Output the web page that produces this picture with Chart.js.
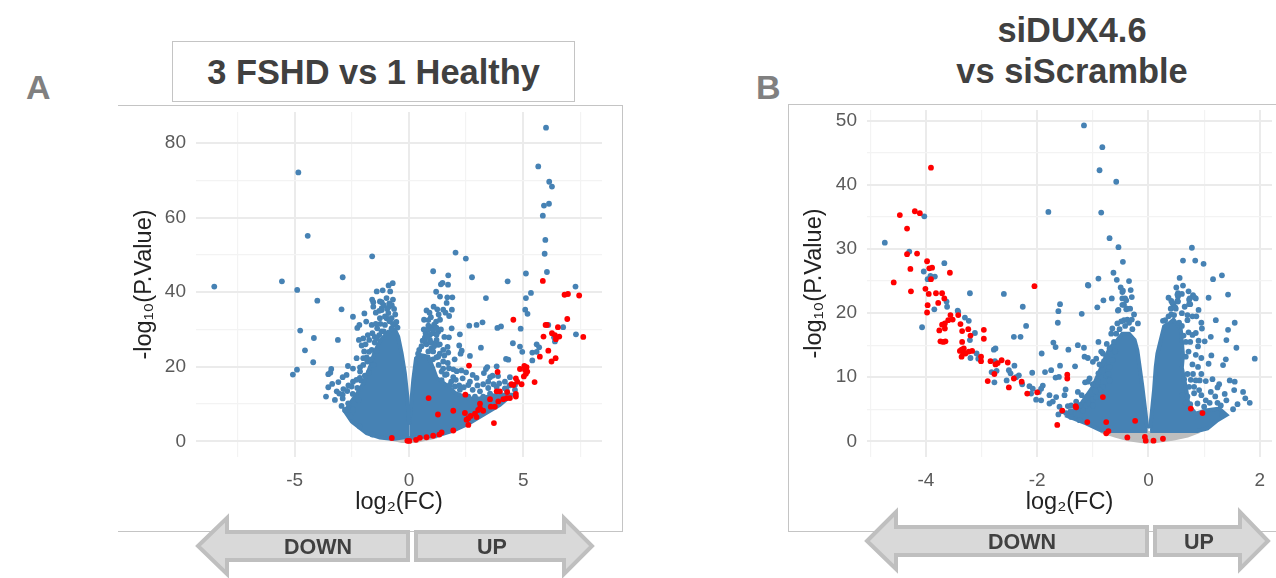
<!DOCTYPE html>
<html>
<head>
<meta charset="utf-8">
<title>Volcano plots</title>
<script src="https://cdn.jsdelivr.net/npm/chart.js@4/dist/chart.umd.min.js"></script>
<style>
    html, body { margin: 0; padding: 0; background: #fff; }
    body { position: relative; width: 1276px; height: 578px; overflow: hidden; font-family: "Liberation Sans", Arial, sans-serif; }
    canvas { position: absolute; }
    .frame { position: absolute; box-sizing: border-box; border: 1px solid #c4c4c4; }
    .letter { position: absolute; font-size: 34px; font-weight: bold; color: #808080; line-height: 34px; }
    .title { position: absolute; font-weight: bold; color: #404040; text-align: center; font-size: 34.4px; }
    svg { position: absolute; left: 0; top: 0; }
    svg text { font-family: "Liberation Sans", Arial, sans-serif; font-size: 21.5px; font-weight: bold; fill: #404040; text-anchor: middle; }
    svg polygon { fill: #d9d9d9; stroke: #bfbfbf; stroke-width: 4; }
</style>
</head>
<body>
<div class="letter" style="left:26px;top:70px;">A</div>
<div class="letter" style="left:756px;top:70px;">B</div>
<div class="frame" style="left:172px;top:41px;width:403px;height:61px;"></div>
<div class="title" style="left:172px;top:53px;width:403px;">3 FSHD vs 1 Healthy</div>
<div class="title" style="left:872px;top:10px;width:400px;line-height:41px;">siDUX4.6<br>vs siScramble</div>
<div class="frame" style="left:118px;top:105px;width:505px;height:427px;border-left:none;"></div>
<div class="frame" style="left:788px;top:104px;width:490px;height:428px;border-right:none;"></div>
<canvas id="chart-a" width="504" height="426" style="left:118px;top:105px;"></canvas>
<canvas id="chart-b" width="488" height="427" style="left:788px;top:104px;"></canvas>
<svg width="1276" height="578">
    <polygon points="198,546 227,518 227,532 408,532 408,560 227,560 227,574"></polygon>
    <polygon points="416,532 564,532 564,518 592,546 564,574 564,560 416,560"></polygon>
    <text x="318" y="554">DOWN</text>
    <text x="492" y="554">UP</text>
    <polygon points="867,541 896,512 896,527 1147,527 1147,555 896,555 896,569"></polygon>
    <polygon points="1155,527 1240,527 1240,512 1268,541 1240,569 1240,555 1155,555"></polygon>
    <text x="1022" y="549">DOWN</text>
    <text x="1199" y="549">UP</text>
</svg>
<script>
// values, [log2FC, -log10P]
// the solid blue wedges are thousands of overlapping dots, so they are traced as outlines
const aGrey = [[-1.2,1.3],[-0.7,0.6],[-0.3,0.1],[0.3,0.1],[0.7,0.6],[1.2,1.3]];
const aMassLeft = [[0.01,4.4],[-0.07,12.0],[-0.18,18.3],[-0.32,23.6],[-0.47,28.1],[-0.61,29.9],[-0.91,29.4],[-1.25,27.0],[-1.5,24.0],[-1.7,20.0],[-2.0,15.5],[-2.3,12.5],[-2.6,10.0],[-2.8,8.0],[-2.5,5.3],[-1.85,2.2],[-1.27,1.0],[-0.69,0.65],[0.01,1.3]];
const aMassRight = [[0.02,4.9],[0.19,16.5],[0.31,22.3],[0.48,23.2],[0.85,22.7],[1.06,19.6],[1.21,17.0],[1.65,15.0],[2.01,13.0],[2.60,11.5],[3.11,11.5],[3.84,12.5],[4.5,12.5],[3.98,9.8],[3.25,7.1],[2.60,4.7],[1.94,2.9],[1.21,1.5],[0.02,0.9]];
const aBlue = [
    [-8.52,41.5],[-5.56,42.9],[-4.89,40.6],[-4.84,72.1],[-4.43,55.1],[-4.01,37.7],[-2.90,44.0],[-2.95,35.4],[-1.61,49.6],[-0.71,42.4],[-0.89,41.8],[-1.15,40.5],[-1.41,40.2],[-0.82,40.2],[-1.61,38.0],[-1.56,37.3],[-0.98,38.4],[-1.19,37.3],[-0.86,37.0],[-1.56,36.1],[-1.19,35.7],[-0.87,36.1],
    [-2.45,33.4],[-1.95,34.3],[-4.76,29.7],[-4.16,27.7],[-3.11,27.2],[-4.55,24.4],[-4.19,21.2],[-4.90,19.2],[-5.08,17.9],[-3.40,19.4],[-3.44,18.4],[-3.53,18.0],[-2.67,20.2],[-2.45,19.5],[-2.14,19.8],[-2.29,22.3],[-2.19,27.2],[-2.0,27.6],[-1.74,27.2],[-2.07,25.7],[-1.96,24.1],[-1.63,24.5],[-1.41,24.3],[-2.26,30.4],[-2.17,31.2],[-1.87,32.1],[-1.63,31.2],[-1.39,30.3],[-1.27,33.0],[-2.73,17.8],[-2.90,17.2],[-3.09,15.9],[-3.36,15.4],[-3.53,14.5],[-3.63,12.0],[-3.16,13.4],[-3.24,11.1],[-2.87,14.0],[-2.90,12.5],[-2.51,14.7],[-2.26,14.3],[-2.46,12.7],[-2.66,10.2],[-2.80,8.4],[-2.10,16.3],[-1.93,17.6],[-2.0,22.3],[-1.82,21.4],[-2.14,18.7],[-1.56,20.5],
    [-0.90,34.4],[-0.98,33.0],[-0.76,33.0],[-1.05,31.2],[-0.61,31.2],[-0.76,30.3],[-1.19,35.2],[-1.27,37.5],[-1.3,28.5],[-1.5,26.5],[-1.65,22.0],[-1.75,18.5],[-2.2,11.0],[-2.45,8.5],[-2.55,6.5],[-2.15,4.0],[-1.6,1.8],
    [-0.7,38.0],[-0.75,36.5],[-0.65,35.5],[-0.95,35.5],[-1.1,36.5],[-1.3,35.0],[-1.45,34.5],[-1.05,33.5],[-0.85,32.2],[-0.7,31.5],[-0.55,32.0],[-0.6,34.0],[-1.25,31.5],[-1.1,29.5],[-1.45,31.5],[-1.6,29.0],[-1.5,28.0],[-1.8,28.5],[-1.9,26.0],[-1.75,24.0],[-1.85,22.5],[-2.0,20.5],[-2.15,17.0],[-2.3,16.5],[-2.45,16.0],[-2.65,15.0],[-2.7,13.5],[-2.9,11.5],[-2.95,9.5],[-3.05,12.8],[-1.4,27.5],[-1.2,29.5],[-0.5,30.5],
    [6.0,84.1],[5.66,73.7],[6.14,69.6],[6.26,68.3],[6.13,63.7],[5.91,63.2],[5.86,60.5],[5.97,54.0],[5.94,50.3],[6.04,45.4],[5.12,45.0],[4.32,42.9],[2.76,44.0],[2.49,49.0],[2.04,50.6],[1.06,45.6],[1.72,44.5],[1.47,42.5],[1.40,42.1],[1.71,42.0],[1.19,40.1],[1.36,38.8],[1.68,38.6],[1.90,38.6],[1.65,37.1],[3.37,38.4],[5.34,39.8],[5.12,38.4],[7.29,41.5],[5.09,35.3],[1.08,36.1],[1.24,35.4],[1.50,35.3],[1.88,35.3],[0.77,35.1],
    [5.19,34.2],[0.96,33.3],[1.76,33.6],[0.66,32.6],[1.19,32.1],[1.36,32.6],[0.85,31.0],[1.0,30.5],[1.87,30.3],[2.64,31.0],[2.96,31.2],[3.22,31.9],[3.87,30.4],[4.03,30.8],[4.89,30.2],[6.10,31.2],[6.75,30.6],[7.31,28.7],[2.23,28.7],[1.75,27.9],[2.20,25.7],[2.31,24.3],[2.26,23.5],[1.69,25.3],[1.72,23.8],[0.73,29.0],[0.70,27.9],[1.06,29.0],[1.28,29.4],[1.21,27.2],[0.77,26.0],[0.99,25.0],[2.67,22.9],[3.15,25.1],[4.55,26.3],[4.86,25.4],[4.96,24.0],[4.25,22.1],[4.35,21.9],[5.40,23.8],[5.59,24.0],[5.59,26.0],[5.70,25.2],[5.40,21.7],[6.39,26.8],[6.35,27.9],[1.75,19.6],[1.94,19.3],[2.09,18.8],[2.35,16.9],[1.94,17.2],[1.79,15.1],[2.79,17.8],[2.67,16.0],[2.96,17.0],[2.60,15.1],[3.37,19.4],[3.43,19.9],[3.28,18.3],[3.84,20.1],[3.66,17.6],[3.47,16.0],[3.55,17.2],[4.42,17.2],[4.64,13.8],[4.64,15.1],[2.79,13.8],[3.11,13.4],[3.47,14.3],[3.84,14.6],[4.2,14.2],
    [0.85,29.9],[1.06,29.9],[0.92,28.6],[1.21,28.6],[0.70,26.8],[0.92,27.2],[1.14,26.3],[1.28,25.9],[1.06,24.1],[0.85,24.1],[1.28,22.7],[1.50,21.4],[1.43,18.7],[1.58,17.8],[1.43,16.4],[2.01,14.7],[2.23,13.8],[2.38,12.0],[2.60,12.0],[2.89,12.0],[3.25,12.0],[3.55,12.8],[3.98,12.8],[4.28,13.7],
    [0.45,24.5],[0.55,25.5],[0.4,23.5],[0.6,27.0],[0.8,28.0],[0.95,26.5],[1.1,25.5],[0.65,30.0],[0.85,32.5],[1.1,31.3],[1.2,30.5],[1.4,30.0],[1.55,28.0],[1.35,26.0],[1.5,24.5],[1.35,23.5],[1.2,22.5],[1.05,22.0],[1.3,20.5],[1.5,19.5],[1.65,18.0],[1.85,16.0],[2.05,16.5],[2.2,15.0],[2.4,14.5],[1.7,21.0],[1.55,23.0],[2.0,22.0],[2.5,18.5],[2.3,19.0],[3.0,15.0],[3.25,15.3],[3.7,15.3],[3.95,15.5],[4.2,16.0],[4.4,15.0],[3.9,17.5],[0.9,34.5],[1.3,34.0],[1.6,34.5]
];
const aRed = [
    [5.86,43.0],[6.81,39.3],[6.96,39.5],[7.45,39.1],[-0.75,0.9],[-0.07,0.13],[0.02,0.1],[0.31,0.4],[0.48,0.94],[0.77,1.1],[1.06,1.5],[1.33,1.8],[1.43,2.4],[1.94,2.9],[0.86,11.6],[1.27,7.2],[1.94,8.2],[2.45,7.6],[2.47,12.5],[2.60,4.4],[2.60,6.2],[2.52,5.8],[2.70,6.8],[2.89,7.4],[2.96,6.5],[3.11,10.1],[3.11,8.9],[3.25,8.2],[3.03,8.4],[3.55,11.3],[3.58,9.3],[3.76,9.3],[3.72,4.9],[3.84,13.4],[3.98,13.4],[3.91,10.7],[4.13,11.3],[4.28,11.6],[4.42,11.6],[4.30,13.2],[4.68,12.7],[4.68,12.0],[4.49,15.3],[4.57,15.1],[4.68,16.9],[4.74,16.0],[4.93,15.3],[5.50,15.9],[4.86,19.4],[5.05,20.2],[5.15,19.9],[5.18,18.7],[5.08,19.2],[5.12,18.1],[5.03,17.4],[3.88,18.6],[2.63,20.3],[4.57,32.6],[5.73,22.7],[6.10,24.3],[6.24,21.4],[6.42,22.3],[5.89,28.1],[5.98,31.2],[6.04,31.2],[6.52,30.6],[6.93,32.8],[7.63,28.0],[6.26,29.0],[6.39,28.5],[6.58,28.1],[6.43,27.4]
];

const bGrey = [[-0.85,1.6],[-0.6,0.9],[-0.36,0.3],[-0.1,0],[0.1,0],[0.43,0.4],[0.7,0.9],[0.91,1.6]];
const bMassLeft = [[-0.02,2.0],[-0.11,8.5],[-0.2,14.2],[-0.25,15.8],[-0.35,16.8],[-0.47,16.8],[-0.56,15.8],[-0.7,14.5],[-0.85,11.5],[-1.0,8.5],[-1.2,6.0],[-1.35,4.8],[-1.45,3.9],[-1.12,2.8],[-0.85,1.7],[-0.65,1.6],[-0.02,1.6]];
const bMassRight = [[0.03,2.0],[0.10,8.0],[0.13,11.6],[0.16,13.7],[0.22,15.8],[0.28,17.9],[0.37,18.4],[0.45,19.0],[0.58,17.5],[0.62,13.5],[0.6,11.5],[0.68,8.0],[0.72,5.6],[0.85,4.3],[1.03,4.8],[1.27,5.1],[1.40,4.1],[1.24,3.3],[1.06,2.0],[0.88,1.6],[0.03,1.6]];
const bBlue = [
    [-1.16,49.3],[-1.80,35.8],[-4.03,35.1],[-4.74,31.0],[-4.30,29.6],[-3.67,27.8],[-4.04,26.5],[-3.92,25.8],[-3.84,25.7],[-3.97,25.3],[-3.21,23.1],[-2.60,23.0],[-2.26,21.0],[-1.59,21.4],[-1.09,24.4],[-3.63,21.8],[-3.62,21.0],[-3.85,20.6],[-3.43,20.4],[-1.62,20.3],
    [-0.83,45.9],[-0.88,42.3],[-0.58,40.5],[-0.85,35.7],[-0.70,31.7],[-0.54,30.3],[-0.46,28.0],[-0.63,26.3],[-0.90,25.4],[-0.57,25.2],[-1.08,24.3],[-0.46,23.5],[-0.32,23.6],[-0.81,22.0],[-0.66,22.3],[-0.47,22.3],[-0.42,22.3],[-0.47,21.3],[-0.92,20.9],[-0.54,20.5],[-0.40,20.6],[-0.33,20.7],
    [0.78,30.2],[0.62,28.2],[0.84,28.2],[0.99,27.7],[0.56,25.5],[1.16,25.3],[1.32,25.9],[0.62,24.3],[0.72,23.4],[0.53,23.1],[0.80,22.8],[1.43,22.9],[1.08,22.4],[0.85,22.3],[0.73,22.1],[0.36,22.4],[0.53,22.6],[0.41,21.9],[0.53,21.8],[0.75,21.4],[0.45,21.3],[0.40,20.7],[0.49,20.7],
    [-1.63,18.5],[-1.20,19.9],[-2.20,18.0],[-2.42,16.3],[-2.30,16.3],[-3.42,20.2],[-4.07,17.8],[-3.30,19.3],[-3.23,18.8],[-3.12,16.9],[-3.21,15.8],[-3.20,13.0],[-3.09,13.7],[-3.06,12.9],[-2.78,14.3],[-2.75,14.5],[-2.82,10.8],[-2.73,11.0],[-2.77,9.2],[-2.76,12.5],[-2.41,11.8],[-2.51,11.1],[-2.48,10.6],[-2.38,10.0],[-2.33,10.3],[-2.55,9.5],[-2.27,8.9],[-2.09,10.7],[-2.14,8.6],[-2.08,8.2],[-1.90,8.7],[-1.93,8.2],[-1.97,7.7],[-2.11,7.45],[-2.02,6.5],[-1.93,6.4],[-1.86,10.8],[-1.75,11.1],[-1.59,11.8],[-1.67,9.95],[-1.61,10.05],[-1.32,11.7],[-1.92,13.7],[-1.71,15.4],[-1.67,14.7],[-1.44,14.3],[-1.27,15.0],[-1.16,14.6],[-0.90,15.5],[-1.49,8.1],[-1.51,7.2],[-1.27,7.7],[-1.20,7.2],[-1.66,6.9],[-1.78,7.2],[-1.72,6.2],[-1.78,5.9],[-1.60,5.4],[-1.48,4.4],[-1.39,3.8],[-1.24,3.3],[-1.45,5.5],[-1.39,5.6],[-1.12,5.6],[-1.06,5.9],[-1.15,13.2],[-1.09,13.0],[-1.09,9.3],[-1.02,7.7],[-1.0,8.9],[-1.06,9.8],[-0.94,8.8],[-0.90,10.6],[-1.14,9.2],
    [-0.47,23.3],[-0.44,21.3],[-0.38,20.7],[-0.55,20.4],[-0.26,19.8],[-0.19,18.4],[-0.38,19.0],[-0.44,18.9],[-0.49,18.7],[-0.56,18.4],[-0.65,17.6],[-0.67,16.8],[-0.58,16.8],[-0.29,17.5],[-0.94,12.9],[-1.0,12.4],[-0.82,13.7],[-0.70,14.5],[-0.85,14.0],[-0.76,13.2],[-0.88,12.0],[-0.82,11.1],[-0.91,9.3],[-0.82,8.5],[-0.65,12.7],[-0.70,9.5],[-0.85,6.9],[-1.0,6.5],[-1.27,5.1],[-0.70,11.6],[-0.76,10.3],[-0.88,8.0],[-0.76,6.9],[-0.94,6.9],[-1.0,5.6],[-1.18,4.8],[-1.24,5.6],
    [-0.42,18.0],[-0.35,18.5],[-0.3,19.0],[-0.52,17.5],[-0.75,15.2],[-0.62,15.5],[-0.6,14.0],[-0.8,12.5],[-0.72,10.5],[-0.95,7.8],[-1.1,7.0],[-1.3,6.2],[-1.4,4.7],[-1.55,4.7],[-1.62,4.2],[-0.4,22.0],[-0.3,22.5],[-0.5,24.0],[-0.35,25.0],
    [0.52,22.9],[0.52,21.9],[0.43,21.6],[0.48,20.9],[0.74,22.3],[0.82,22.5],[0.73,21.4],[0.26,18.8],[0.30,18.9],[0.41,19.8],[0.46,19.7],[0.70,19.7],[0.79,19.5],[0.86,19.5],[0.70,18.9],[0.95,18.5],[1.21,18.9],[1.55,18.5],[1.43,17.4],[0.96,17.6],[0.85,16.9],[0.79,16.6],[1.12,16.3],[0.90,15.7],[1.01,15.6],[1.40,15.8],[0.89,14.8],[0.67,15.5],[1.58,14.6],[1.13,13.4],[1.91,12.9],[1.39,12.8],[1.34,11.9],[1.08,12.1],[0.89,11.6],[0.67,13.2],[0.79,12.0],[0.64,9.7],[0.76,9.6],[0.85,9.5],[0.92,9.5],[1.03,9.4],[1.15,9.7],[1.27,8.9],[1.24,8.4],[1.46,9.5],[1.55,9.3],[1.54,8.0],[1.70,7.7],[1.37,7.4],[1.74,6.7],[1.82,6.0],[1.40,6.4],[1.24,6.0],[1.60,5.8],[1.52,5.0],[1.33,4.2],[1.12,7.7],[1.03,6.4],[0.91,8.0],[0.82,8.5],[0.73,8.5],[0.82,7.5],[0.70,7.0],[0.61,7.2],[0.67,6.0],[0.88,5.9],
    [0.32,18.0],[0.36,19.5],[0.55,18.5],[0.6,18.0],[0.63,16.5],[0.72,17.0],[0.75,15.5],[0.72,14.0],[0.85,13.5],[0.95,13.0],[0.8,10.5],[0.7,10.5],[0.95,10.5],[0.95,7.2],[1.1,6.0],[1.2,7.0],[0.75,5.8],[1.0,5.4],[1.3,5.6],[0.6,20.0],[0.65,21.0],[0.9,20.5],[0.6,23.0],[0.5,24.0]
];
const bRed = [
    [-3.91,42.7],[-4.20,35.9],[-4.11,35.6],[-4.47,35.3],[-4.34,33.2],[-4.34,29.2],[-4.16,29.3],[-3.98,28.1],[-3.94,27.0],[-3.89,27.1],[-4.28,26.9],[-3.57,26.3],[-3.91,25.3],[-4.58,24.8],[-4.27,23.4],[-4.01,23.8],[-3.95,23.0],[-3.82,23.1],[-3.71,23.1],[-3.67,22.3],[-3.78,21.6],[-3.97,21.25],[-2.05,24.2],
    [-3.98,20.1],[-3.56,19.7],[-3.42,19.7],[-3.60,18.9],[-3.52,19.0],[-3.66,18.4],[-3.71,18.2],[-3.76,17.3],[-3.66,17.6],[-3.38,18.3],[-3.35,17.2],[-3.24,17.5],[-2.96,17.4],[-2.96,16.0],[-3.20,16.5],[-3.74,15.6],[-3.69,15.5],[-3.65,15.6],[-3.35,15.5],[-3.36,14.3],[-3.32,14.5],[-3.39,14.1],[-3.33,13.7],[-3.36,13.2],[-3.29,13.7],[-3.23,14.0],[-3.17,14.1],[-3.01,13.2],[-3.01,12.5],[-2.84,12.5],[-2.75,12.0],[-2.71,12.2],[-2.64,12.65],[-2.53,12.3],[-2.77,10.5],[-2.89,9.4],[-2.42,9.8],[-2.28,9.3],[-2.51,8.4],[-2.18,7.45],[-2.0,7.65],[-1.64,2.55],[-1.55,4.8],[-1.46,10.4],[-1.46,9.8],[-1.31,5.5],[-1.30,5.3],[-0.82,6.9],[-1.10,3.0],[-0.76,3.0],[-0.24,3.2],[-0.76,1.25],[-0.72,1.6],[-0.38,0.6],[-0.065,0.67],[-0.05,0.1],
    [0.76,5.1],[0.97,4.4],[0.09,0.1],[0.26,0.4]
];

const TICK_COLOR = '#5a5a5a';
const TITLE_COLOR = '#222222';

function toPoints(pairs) {
    return pairs.map(p => ({ x: p[0], y: p[1] }));
}

function massDataset(pairs, color) {
    return {
        data: toPoints(pairs),
        showLine: true,
        fill: 'shape',
        tension: 0,
        backgroundColor: color,
        borderColor: color,
        borderWidth: 4,
        pointRadius: 0,
        order: color === 'steelblue' ? 3 : 4
    };
}

function dotDataset(pairs, color, order) {
    return {
        data: toPoints(pairs),
        backgroundColor: color,
        borderWidth: 0,
        pointRadius: 2.9,
        order: order
    };
}

function linearAxis(opts) {
    return {
        type: 'linear',
        min: opts.min,
        max: opts.max,
        border: { display: false },
        title: {
            display: true,
            text: opts.title,
            color: TITLE_COLOR,
            font: { family: '"Liberation Sans"', size: 23.5 },
            padding: opts.titlePadding
        },
        grid: {
            drawTicks: false,
            color: ctx => (ctx.tick.value % opts.major === 0 ? '#ebebeb' : '#f3f3f3'),
            lineWidth: ctx => (ctx.tick.value % opts.major === 0 ? 2 : 1.2)
        },
        ticks: {
            stepSize: opts.step,
            includeBounds: false,
            autoSkip: false,
            maxRotation: 0,
            padding: opts.tickPadding,
            color: TICK_COLOR,
            font: { family: '"Liberation Sans"', size: 19 },
            callback: value => (value % opts.major === 0 ? String(value) : '')
        },
        afterFit: scale => {
            // fixed box, and no extra room for the end labels, so the plot area lands where it should
            scale.paddingTop = 0;
            scale.paddingBottom = 0;
            scale.paddingLeft = 0;
            scale.paddingRight = 0;
            if (opts.boxWidth) {
                scale.width = opts.boxWidth;
            } else {
                scale.height = opts.boxHeight;
            }
        }
    };
}

function drawVolcano(id, datasets, xOpts, yOpts, padding) {
    const ctx = document.getElementById(id).getContext('2d');
    return new Chart(ctx, {
        type: 'scatter',
        data: { datasets: datasets },
        options: {
            responsive: false,
            animation: false,
            layout: { padding: padding },
            plugins: { legend: { display: false }, tooltip: { enabled: false } },
            scales: { x: linearAxis(xOpts), y: linearAxis(yOpts) }
        }
    });
}

drawVolcano('chart-a', [
    massDataset(aGrey, '#bebebe'),
    massDataset(aMassLeft, 'steelblue'),
    massDataset(aMassRight, 'steelblue'),
    dotDataset(aBlue, 'steelblue', 2),
    dotDataset(aRed, '#ff0000', 1)
], {
    min: -9.32, max: 8.45, step: 2.5, major: 5, title: 'log₂(FC)',
    titlePadding: { top: 0, bottom: 14 }, tickPadding: 12, boxHeight: 74
}, {
    min: -4.2, max: 88.3, step: 10, major: 20, title: '-log₁₀(P.Value)',
    titlePadding: { top: 12, bottom: 0 }, tickPadding: 10, boxWidth: 78
}, { left: 0, right: 20, top: 7, bottom: 0 });

drawVolcano('chart-b', [
    massDataset(bGrey, '#bebebe'),
    massDataset(bMassLeft, 'steelblue'),
    massDataset(bMassRight, 'steelblue'),
    dotDataset(bBlue, 'steelblue', 2),
    dotDataset(bRed, '#ff0000', 1)
], {
    min: -5.06, max: 2.22, step: 1, major: 2, title: 'log₂(FC)',
    titlePadding: { top: 0, bottom: 14 }, tickPadding: 12, boxHeight: 74
}, {
    min: -2.45, max: 51.7, step: 5, major: 10, title: '-log₁₀(P.Value)',
    titlePadding: { top: 12, bottom: 0 }, tickPadding: 10, boxWidth: 79
}, { left: 0, right: 3, top: 6, bottom: 0 });
</script>
</body>
</html>
